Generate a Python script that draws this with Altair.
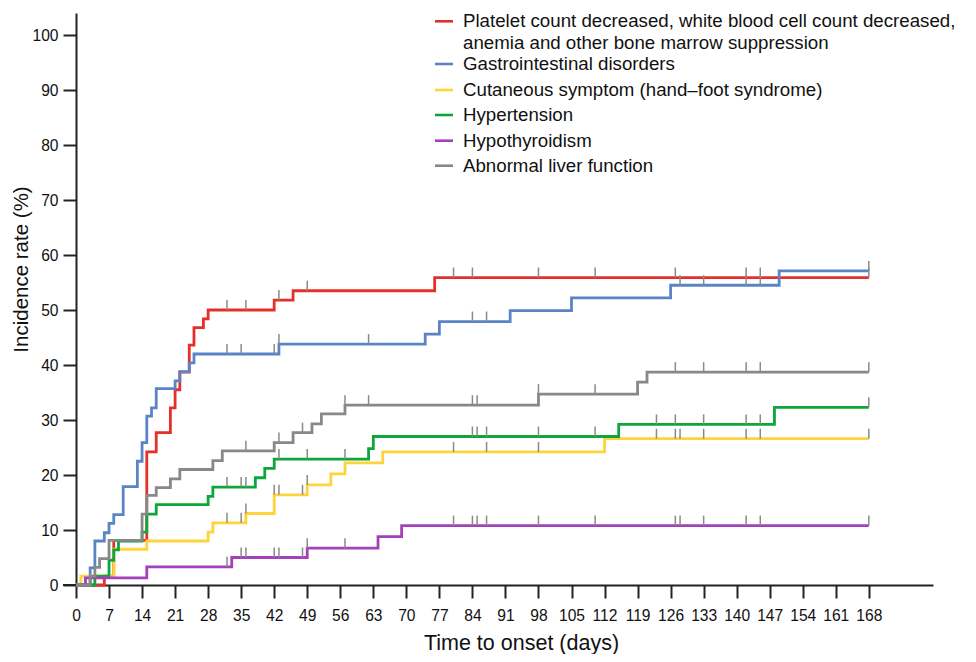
import altair as alt
import pandas as pd
import numpy as np

# ---------------- data ----------------
series_names = [
    "Platelet count decreased, white blood cell count decreased, anemia and other bone marrow suppression",
    "Gastrointestinal disorders",
    "Cutaneous symptom (hand\u2013foot syndrome)",
    "Hypertension",
    "Hypothyroidism",
    "Abnormal liver function",
]
legend_lines = [
    ["Platelet count decreased, white blood cell count decreased,",
     "anemia and other bone marrow suppression"],
    ["Gastrointestinal disorders"],
    ["Cutaneous symptom (hand\u2013foot syndrome)"],
    ["Hypertension"],
    ["Hypothyroidism"],
    ["Abnormal liver function"],
]
colors = ["#e5302a", "#5b84c6", "#ffd43b", "#0ca63a", "#a540bb", "#888888"]

red_days = [0, 6, 8, 15, 17, 20, 21, 22, 24, 25, 27, 28, 42, 46, 76, 168]
red_vals = [0, 1.6, 8.1, 24.2, 27.7, 32.2, 35.5, 38.7, 43.6, 46.8, 48.4, 50.0, 51.8, 53.5, 55.9, 55.9]
red_cens = [32, 36, 43, 49, 80, 84, 98, 110, 127, 142, 145, 168]

blue_days = [0, 3, 4, 6, 7, 8, 10, 13, 14, 15, 16, 17, 21, 22, 24, 25, 43, 74, 77, 92, 105, 126, 149, 168]
blue_vals = [0, 3.1, 8.0, 9.5, 11.2, 12.8, 17.9, 22.5, 25.9, 30.7, 32.2, 35.7, 37.1, 38.8, 40.4, 42.0,
             43.8, 45.6, 47.9, 49.9, 52.2, 54.5, 57.1, 57.1]
blue_cens = [32, 35, 42, 43, 62, 84, 87, 128, 133, 142, 145, 168]

yellow_days = [0, 1, 8, 15, 28, 29, 36, 42, 49, 54, 57, 65, 112, 168]
yellow_vals = [0, 1.6, 6.5, 8.0, 9.6, 11.3, 13.0, 16.4, 18.2, 20.2, 22.2, 24.2, 26.6, 26.6]
yellow_cens = [32, 35, 36, 42, 43, 48, 49, 80, 87, 98, 123, 127, 128, 133, 142, 145, 168]

green_days = [0, 4, 7, 8, 9, 14, 15, 17, 28, 29, 38, 40, 42, 62, 63, 115, 148, 168]
green_vals = [0, 1.6, 4.5, 6.4, 8.0, 9.6, 12.9, 14.6, 16.1, 17.8, 19.5, 21.2, 22.9, 24.8, 27.0, 29.2, 32.3, 32.3]
green_cens = [32, 35, 36, 43, 49, 57, 84, 85, 87, 98, 110, 123, 127, 133, 142, 145, 168]

purple_days = [0, 2, 15, 33, 49, 64, 69, 168]
purple_vals = [0, 1.3, 3.3, 5.0, 6.7, 8.8, 10.8, 10.8]
purple_cens = [32, 35, 36, 42, 43, 48, 49, 57, 80, 84, 85, 87, 98, 110, 127, 128, 133, 142, 145, 168]

gray_days = [0, 3, 4, 5, 7, 14, 15, 17, 20, 22, 29, 31, 42, 46, 50, 52, 57, 98, 119, 121, 168]
gray_vals = [0, 1.6, 3.2, 4.8, 8.1, 12.9, 16.3, 17.7, 19.3, 21.0, 22.6, 24.4, 25.9, 27.7, 29.3, 31.1,
             32.7, 34.7, 36.9, 38.7, 38.7]
gray_cens = [36, 43, 48, 57, 62, 84, 85, 98, 110, 127, 133, 142, 145, 168]

x_ticks = list(range(0, 169, 7))
y_ticks = list(range(0, 101, 10))

all_days = [red_days, blue_days, yellow_days, green_days, purple_days, gray_days]
all_vals = [red_vals, blue_vals, yellow_vals, green_vals, purple_vals, gray_vals]
all_cens = [red_cens, blue_cens, yellow_cens, green_cens, purple_cens, gray_cens]

# ---------------- layout ----------------
W, H = 857, 572
X_MAX = 181.6
Y_MAX = 104
FONT = "Liberation Sans"
AX = "#222222"

xscale = alt.Scale(domain=[0, X_MAX], nice=False, zero=False)
yscale = alt.Scale(domain=[0, Y_MAX], nice=False, zero=False)

xaxis = alt.Axis(values=x_ticks, title="Time to onset (days)", grid=False,
                 domainColor=AX, domainWidth=2, tickColor=AX, tickWidth=2, tickSize=13,
                 labelFont=FONT, labelFontSize=15.6, labelColor="#111", labelPadding=10,
                 labelFlush=False, labelOverlap=False,
                 titleFont=FONT, titleFontSize=21.5, titleFontWeight="normal", titleColor="#111",
                 titlePadding=9, titleX=445)
yaxis = alt.Axis(values=y_ticks, title="Incidence rate (%)", grid=False,
                 domainColor=AX, domainWidth=2, tickColor=AX, tickWidth=2, tickSize=13,
                 labelFont=FONT, labelFontSize=15.6, labelColor="#111", labelPadding=5,
                 labelFlush=False, labelOverlap=False,
                 titleFont=FONT, titleFontSize=20.5, titleFontWeight="normal", titleColor="#111",
                 titlePadding=0, titleY=256)

layers = []
# line layers
for i in range(len(series_names)):
    df = pd.DataFrame({"day": all_days[i], "rate": all_vals[i]})
    layers.append(
        alt.Chart(df).mark_line(interpolate="step-after", color=colors[i], strokeWidth=2.8,
                                strokeJoin="miter").encode(
            x=alt.X("day:Q", scale=xscale, axis=xaxis),
            y=alt.Y("rate:Q", scale=yscale, axis=yaxis),
        )
    )

# censor ticks (y looked up on each step curve)
cens_rows = []
for i in range(len(series_names)):
    d = np.array(all_days[i]); v = np.array(all_vals[i])
    for c in all_cens[i]:
        idx = np.searchsorted(d, c, side="right") - 1
        cens_rows.append({"day": c, "rate": float(v[idx]), "series": series_names[i]})
cens_df = pd.DataFrame(cens_rows)
layers.append(
    alt.Chart(cens_df).mark_rule(color="#8a8a8a", strokeWidth=1.5, y2Offset=-10).encode(
        x=alt.X("day:Q", scale=xscale, axis=xaxis),
        y=alt.Y("rate:Q", scale=yscale, axis=yaxis),
        y2="rate:Q",
    )
)

# x-axis line extension left of the y-axis
layers.append(
    alt.Chart(pd.DataFrame({"a": [0]})).mark_rule(color=AX, strokeWidth=2).encode(
        x=alt.value(-13), x2=alt.value(0), y=alt.value(H), y2=alt.value(H)
    )
)

# manual legend
sym_x0, sym_x1, text_x = 359, 377, 387
row_y = [8.3, 51, 77, 102, 127.7, 152.7]
line_gap = 21.5
for i in range(len(series_names)):
    layers.append(
        alt.Chart(pd.DataFrame({"a": [0]})).mark_rule(color=colors[i], strokeWidth=2.6).encode(
            x=alt.value(sym_x0), x2=alt.value(sym_x1), y=alt.value(row_y[i]), y2=alt.value(row_y[i])
        )
    )
    for j, txt in enumerate(legend_lines[i]):
        layers.append(
            alt.Chart(pd.DataFrame({"label": [txt]})).mark_text(
                align="left", baseline="middle", font=FONT, fontSize=18.7, color="#111"
            ).encode(
                x=alt.value(text_x), y=alt.value(row_y[i] + j * line_gap), text="label:N"
            )
        )

chart = alt.layer(*layers).properties(
    width=W, height=H,
    autosize=alt.AutoSizeParams(type="none"),
    padding={"left": 68, "top": 5, "right": 35, "bottom": 69},
).configure_view(stroke=None)

chart.save("out.html", embed_options={"renderer": "svg", "actions": False})
